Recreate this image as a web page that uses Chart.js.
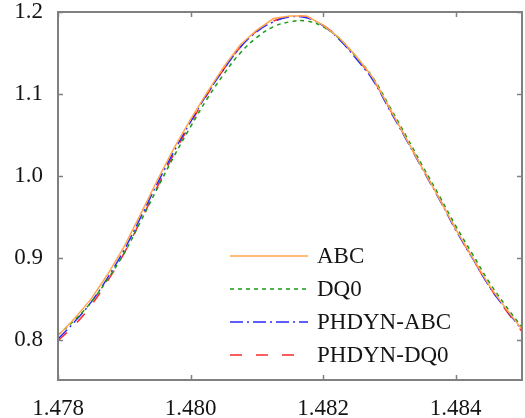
<!DOCTYPE html>
<html>
<head>
<meta charset="utf-8">
<script src="https://cdn.jsdelivr.net/npm/chart.js@4/dist/chart.umd.min.js"></script>
<style>
	html, body { margin: 0; padding: 0; background: #fff; }
	#chart { display: block; }
</style>
</head>
<body>
<canvas id="chart" width="525" height="418"></canvas>
<script>
var seriesNames = ['ABC', 'DQ0', 'PHDYN-ABC', 'PHDYN-DQ0'];

var tVals = [1.47800, 1.47825, 1.47850, 1.47875, 1.47900, 1.47925, 1.47950, 1.47975,
	1.48000, 1.48025, 1.48050, 1.48075, 1.48100, 1.48125, 1.48150, 1.48175,
	1.48200, 1.48225, 1.48250, 1.48275, 1.48300, 1.48325, 1.48350, 1.48375,
	1.48400, 1.48425, 1.48450, 1.48475, 1.48500];

var abcVals = [0.805, 0.826, 0.850, 0.880, 0.914, 0.954, 0.995, 1.034,
	1.069, 1.102, 1.133, 1.160, 1.178, 1.192, 1.195, 1.195,
	1.184, 1.168, 1.146, 1.120, 1.083, 1.046, 1.009, 0.973,
	0.935, 0.901, 0.867, 0.839, 0.813];

var dq0Vals = [0.806, 0.824, 0.846, 0.874, 0.906, 0.945, 0.985, 1.024,
	1.060, 1.094, 1.124, 1.150, 1.169, 1.182, 1.188, 1.189,
	1.182, 1.167, 1.145, 1.120, 1.085, 1.049, 1.012, 0.976,
	0.939, 0.905, 0.871, 0.842, 0.815];

var phAbcVals = [0.801, 0.822, 0.846, 0.876, 0.910, 0.950, 0.991, 1.030,
	1.066, 1.100, 1.130, 1.157, 1.176, 1.188, 1.194, 1.193,
	1.183, 1.166, 1.143, 1.117, 1.081, 1.045, 1.008, 0.972,
	0.934, 0.900, 0.866, 0.838, 0.812];

var phDq0Vals = [0.799, 0.818, 0.842, 0.872, 0.906, 0.946, 0.987, 1.027,
	1.064, 1.099, 1.130, 1.157, 1.177, 1.189, 1.194, 1.194,
	1.184, 1.167, 1.144, 1.118, 1.082, 1.046, 1.009, 0.973,
	0.935, 0.900, 0.866, 0.837, 0.810];

var xTicks = [1.478, 1.480, 1.482, 1.484];
var yTicks = [0.8, 0.9, 1.0, 1.1, 1.2];

var FONT = "'Liberation Serif', 'Times New Roman', serif";
var AXIS_COLOR = '#808080';
var TEXT_COLOR = '#151515';

function pairs(xs, ys) {
	var out = [];
	for (var i = 0; i < xs.length; i++) {
		out.push({ x: xs[i], y: ys[i] });
	}
	return out;
}

// frame + inward tick marks, like the matlab box
var boxPlugin = {
	id: 'boxPlugin',
	afterDraw: function(chart) {
		var ctx = chart.ctx;
		var a = chart.chartArea;
		var sx = chart.scales.x, sy = chart.scales.y;
		ctx.save();
		ctx.strokeStyle = AXIS_COLOR;
		ctx.lineWidth = 2;
		ctx.strokeRect(a.left, a.top, a.right - a.left, a.bottom - a.top);
		ctx.lineWidth = 1.5;
		ctx.beginPath();
		xTicks.forEach(function(v) {
			var px = Math.round(sx.getPixelForValue(v)) + 0.5;
			ctx.moveTo(px, a.bottom); ctx.lineTo(px, a.bottom - 5);
			ctx.moveTo(px, a.top); ctx.lineTo(px, a.top + 5);
		});
		yTicks.forEach(function(v) {
			var py = Math.round(sy.getPixelForValue(v)) + 0.5;
			ctx.moveTo(a.left, py); ctx.lineTo(a.left + 5, py);
			ctx.moveTo(a.right, py); ctx.lineTo(a.right - 5, py);
		});
		ctx.stroke();
		ctx.restore();
	}
};

// legend drawn inside the axes, no frame
var legendPlugin = {
	id: 'legendPlugin',
	afterDraw: function(chart) {
		var ctx = chart.ctx;
		ctx.save();
		ctx.font = '23px ' + FONT;
		ctx.textBaseline = 'middle';
		ctx.textAlign = 'left';
		chart.data.datasets.forEach(function(ds, i) {
			var y = 256 + i * 33;
			ctx.strokeStyle = ds.borderColor;
			ctx.lineWidth = ds.borderWidth;
			ctx.setLineDash(ds.borderDash || []);
			ctx.beginPath();
			ctx.moveTo(230, y);
			ctx.lineTo(308, y);
			ctx.stroke();
			ctx.setLineDash([]);
			ctx.fillStyle = TEXT_COLOR;
			ctx.fillText(ds.label, 317, y + 1);
		});
		ctx.restore();
	}
};

var ctx = document.getElementById('chart');
var myChart = new Chart(ctx, {
	type: 'line',
	data: {
		datasets: [
			{
				label: seriesNames[0],
				data: pairs(tVals, abcVals),
				borderColor: '#ffa64d',
				borderWidth: 1.5,
				tension: 0
			},
			{
				label: seriesNames[1],
				data: pairs(tVals, dq0Vals),
				borderColor: '#179a17',
				borderWidth: 1.5,
				borderDash: [4, 4],
				tension: 0.4
			},
			{
				label: seriesNames[2],
				data: pairs(tVals, phAbcVals),
				borderColor: '#2a2aff',
				borderWidth: 1.5,
				borderDash: [13, 4, 2, 4],
				tension: 0.4
			},
			{
				label: seriesNames[3],
				data: pairs(tVals, phDq0Vals),
				borderColor: '#ff2a2a',
				borderWidth: 1.5,
				borderDash: [12, 14],
				tension: 0.4
			}
		]
	},
	options: {
		responsive: false,
		devicePixelRatio: 1,
		animation: false,
		layout: { padding: { top: 12, right: 3, left: 0, bottom: 0 } },
		elements: { point: { radius: 0 } },
		plugins: {
			legend: { display: false },
			tooltip: { enabled: false }
		},
		scales: {
			x: {
				type: 'linear',
				min: 1.478,
				max: 1.485,
				afterBuildTicks: function(scale) {
					scale.ticks = xTicks.map(function(v) { return { value: v }; });
				},
				afterFit: function(scale) {
					scale.height = 38;
					scale.paddingLeft = 0;
					scale.paddingRight = 0;
				},
				grid: { display: false, drawTicks: false },
				border: { display: false },
				ticks: {
					padding: 15,
					maxRotation: 0,
					autoSkip: false,
					color: TEXT_COLOR,
					font: { family: FONT, size: 23 },
					callback: function(v) { return v.toFixed(3); }
				}
			},
			y: {
				type: 'linear',
				min: 0.751,
				max: 1.2,
				afterBuildTicks: function(scale) {
					scale.ticks = yTicks.map(function(v) { return { value: v }; });
				},
				afterFit: function(scale) {
					scale.width = 58;
					scale.paddingTop = 0;
					scale.paddingBottom = 0;
				},
				grid: { display: false, drawTicks: false },
				border: { display: false },
				ticks: {
					padding: 15,
					autoSkip: false,
					color: TEXT_COLOR,
					font: { family: FONT, size: 23 },
					callback: function(v) { return v.toFixed(1); }
				}
			}
		}
	},
	plugins: [boxPlugin, legendPlugin]
});
</script>
</body>
</html>
